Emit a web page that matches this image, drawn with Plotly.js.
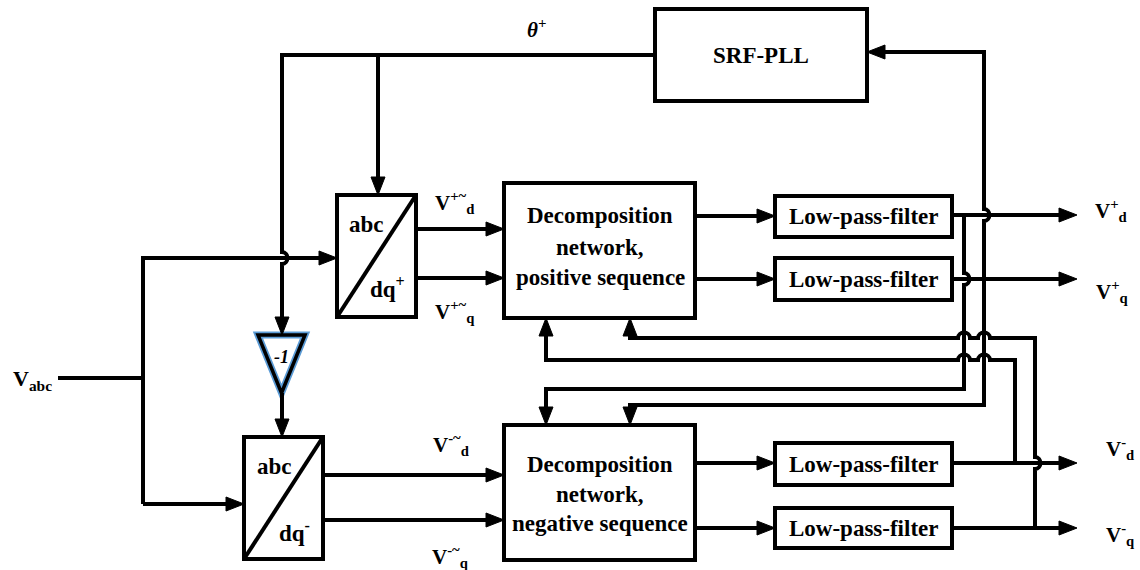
<!DOCTYPE html>
<html><head><meta charset="utf-8">
<script src="https://cdn.plot.ly/plotly-3.0.1.min.js"></script>
<style>html,body{margin:0;padding:0;background:#fff;overflow:hidden}</style>
</head><body><div id="chart" style="width:1140px;height:570px"></div>
<script>
// ---- text content of the diagram ----
const pllLabel = "SRF-PLL";
const filterLabel = "Low-pass-filter";
const decompPosLines = ["Decomposition", "network,", "positive sequence"];
const decompNegLines = ["Decomposition", "network,", "negative sequence"];
const transformPosLabels = ["abc", "dq<sup>+</sup>"];
const transformNegLabels = ["abc", "dq<sup>-</sup>"];
const intermediateSignals = ["V<sup>+~</sup><sub>d</sub>", "V<sup>+~</sup><sub>q</sub>", "V<sup>-~</sup><sub>d</sub>", "V<sup>-~</sup><sub>q</sub>"];
const outputSignals = ["V<sup>+</sup><sub>d</sub>", "V<sup>+</sup><sub>q</sub>", "V<sup>-</sup><sub>d</sub>", "V<sup>-</sup><sub>q</sub>"];
const inputSignal = "V<sub>abc</sub>";
const angleLabel = "θ<sup>+</sup>";
const gainLabel = "-1";

// ---- geometry (layout of the blocks, in pixel-like axis units) ----
const FONT = 'Liberation Serif';
const LW = 4;
const shapes = [];
const annotations = [];
const AL = 18, AW = 7; // arrow length, half width

function rect(x0, y0, x1, y1) {
  shapes.push({type: 'rect', xref: 'x', yref: 'y', x0, y0, x1, y1,
    line: {color: 'black', width: LW}, fillcolor: 'rgba(0,0,0,0)'});
}
function pathShape(d, color, width, fill) {
  shapes.push({type: 'path', xref: 'x', yref: 'y', path: d,
    line: {color: color || 'black', width: width === undefined ? LW : width},
    fillcolor: fill || 'rgba(0,0,0,0)'});
}
function arrowHead(x, y, dir) {
  let d;
  if (dir === 'right') d = `M${x},${y} L${x - AL},${y - AW} L${x - AL},${y + AW} Z`;
  else if (dir === 'left') d = `M${x},${y} L${x + AL},${y - AW} L${x + AL},${y + AW} Z`;
  else if (dir === 'down') d = `M${x},${y} L${x - AW},${y - AL} L${x + AW},${y - AL} Z`;
  else d = `M${x},${y} L${x - AW},${y + AL} L${x + AW},${y + AL} Z`;
  pathShape(d, 'black', 1, 'black');
}
// points: [x,y] or ['h',x,y] for a hop over a crossing line
function wire(pts, arrow) {
  const R = 6, K = 1.2;
  let prev = pts[0];
  let d = `M${prev[0]},${prev[1]}`;
  let lastDir = null;
  for (let i = 1; i < pts.length; i++) {
    const p = pts[i];
    if (p[0] === 'h') {
      const x = p[1], y = p[2];
      if (Math.abs(x - prev[0]) < 0.5) {
        if (y > prev[1]) d += ` L${x},${y - R} C${x + K * R},${y - R} ${x + K * R},${y + R} ${x},${y + R}`;
        else d += ` L${x},${y + R} C${x + K * R},${y + R} ${x + K * R},${y - R} ${x},${y - R}`;
      } else {
        if (x > prev[0]) d += ` L${x - R},${y} C${x - R},${y - K * R} ${x + R},${y - K * R} ${x + R},${y}`;
        else d += ` L${x + R},${y} C${x + R},${y - K * R} ${x - R},${y - K * R} ${x - R},${y}`;
      }
      prev = [x, y];
      continue;
    }
    let x = p[0], y = p[1];
    const isLast = (i === pts.length - 1);
    let dir;
    if (Math.abs(x - prev[0]) < 0.5) dir = y > prev[1] ? 'down' : 'up';
    else dir = x > prev[0] ? 'right' : 'left';
    if (isLast && arrow) {
      const s = AL * 0.6;
      let ex = x, ey = y;
      if (dir === 'down') ey -= s; else if (dir === 'up') ey += s;
      else if (dir === 'right') ex -= s; else ex += s;
      d += ` L${ex},${ey}`;
      lastDir = dir;
    } else d += ` L${x},${y}`;
    prev = [x, y];
  }
  pathShape(d);
  if (arrow) { const e = pts[pts.length - 1]; arrowHead(e[0], e[1], lastDir); }
}
function label(text, x, y, size, opts) {
  annotations.push(Object.assign({xref: 'x', yref: 'y', x, y, text: '<b>' + text + '</b>', showarrow: false,
    xanchor: 'center', yanchor: 'middle', font: {family: FONT, size: size, color: 'black'}}, opts || {}));
}

// blocks
const pll = [655, 9, 867, 101];
const tPos = [337, 195, 416, 317];
const tNeg = [244, 437, 323, 559];
const dPos = [504, 183, 695, 318];
const dNeg = [504, 425, 695, 560];
const lpf = [[775, 196, 952, 237], [775, 258, 952, 300], [775, 443, 952, 485], [775, 508, 952, 548]];

rect(...pll);
rect(...tPos); pathShape(`M${tPos[0]},${tPos[3]} L${tPos[2]},${tPos[1]}`);
rect(...tNeg); pathShape(`M${tNeg[0]},${tNeg[3]} L${tNeg[2]},${tNeg[1]}`);
rect(...dPos); rect(...dNeg);
lpf.forEach(b => rect(...b));

// gain triangle (blue halo + black)
const tri = `M258,335 L305,335 L281.5,393 Z`;
pathShape(tri, '#5b9bd5', 7);
pathShape(tri, 'black', 3.5);

// wires
wire([[655, 55], [282, 55], ['h', 282, 258], [282, 335]], true);
wire([[378, 55], [378, 195]], true);
wire([[282, 393], [282, 437]], true);
wire([[58, 378], [143, 378]], false);
wire([[143, 504], [143, 258], [337, 258]], true);
wire([[143, 504], [244, 504]], true);
wire([[416, 229], [504, 229]], true);
wire([[416, 278], [504, 278]], true);
wire([[323, 475], [504, 475]], true);
wire([[323, 520], [504, 520]], true);
wire([[695, 216], [775, 216]], true);
wire([[695, 279], [775, 279]], true);
wire([[695, 463], [775, 463]], true);
wire([[695, 528], [775, 528]], true);
wire([[952, 215], [1077, 215]], true);
wire([[952, 279], [1077, 279]], true);
wire([[952, 463], [1077, 463]], true);
wire([[952, 528], [1077, 528]], true);
// SRF-PLL input from V+q
wire([[984, 279], ['h', 984, 215], [984, 52], [867, 52]], true);
wire([[984, 279], [984, 405], [630, 405], [630, 425]], true);
// V+d to negative network
wire([[964, 215], ['h', 964, 279], [964, 389], [546, 389], [546, 425]], true);
// V-d to positive network
wire([[1015, 463], [1015, 360], ['h', 984, 360], ['h', 964, 360], [546, 360], [546, 318]], true);
// V-q to positive network
wire([[1035, 528], ['h', 1035, 463], [1035, 338], ['h', 984, 338], ['h', 964, 338], [630, 338], [630, 318]], true);

// labels
label(pllLabel, 761, 55, 23);
decompPosLines.forEach((t, i) => label(t, 600, [215, 247, 277][i], 23));
decompNegLines.forEach((t, i) => label(t, 600, [464, 494, 523][i], 23));
[216, 279, 464, 528].forEach(y => label(filterLabel, 863, y, 23));
label(transformPosLabels[0], 366, 224, 23);
label(transformPosLabels[1], 387, 287, 23);
label(transformNegLabels[0], 274, 466, 23);
label(transformNegLabels[1], 294, 531, 23);
const midPos = [[433, 202], [433, 311], [431, 444], [430, 556]];
intermediateSignals.forEach((t, i) => label(t, midPos[i][0], midPos[i][1], 21, {xanchor: 'left'}));
const outPos = [[1093, 210], [1094, 291], [1104, 448], [1104, 534]];
outputSignals.forEach((t, i) => label(t, outPos[i][0], outPos[i][1], 21, {xanchor: 'left'}));
label(inputSignal, 11, 380, 22, {xanchor: 'left'});
label('<i>' + angleLabel + '</i>', 536, 28, 21);
label('<i>' + gainLabel + '</i>', 281, 357, 18);

const layout = {
  width: 1140, height: 570,
  margin: {l: 0, r: 0, t: 0, b: 0},
  paper_bgcolor: 'white', plot_bgcolor: 'white',
  font: {family: FONT},
  xaxis: {range: [0, 1140], visible: false, fixedrange: true},
  yaxis: {range: [570, 0], visible: false, fixedrange: true},
  shapes, annotations, showlegend: false
};
Plotly.newPlot('chart', [{x: [0], y: [0], mode: 'markers', marker: {opacity: 0}, hoverinfo: 'skip'}], layout, {staticPlot: true});
</script></body></html>
